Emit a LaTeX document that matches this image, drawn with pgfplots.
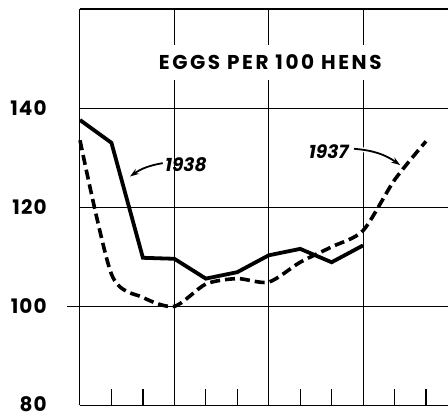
\documentclass[border=0pt]{standalone}
\usepackage{pgfplots}
\pgfplotsset{compat=1.18}
\usepackage{fontspec}
\usetikzlibrary{arrows.meta}
\newfontfamily\tickfont[LetterSpace=6]{Poppins}
\newfontfamily\titlefont[LetterSpace=13]{Poppins}
\newfontfamily\labfont{Poppins}
\begin{document}
\begin{tikzpicture}
\begin{axis}[name=ax, scale only axis, width=368pt, height=396.5pt,
  xmin=0, xmax=11.7, ymin=80, ymax=160, clip=false,
  axis line style={draw=none},
  ytick={80,100,120,140}, yticklabels={\raisebox{2.5pt}{80},100,120,140},
  yticklabel style={font=\tickfont\bfseries\fontsize{20}{20}\selectfont, anchor=east, inner sep=0pt, xshift=-33pt},
  major tick length=0pt,
  xtick={3,6,9}, xticklabels={},
  xmajorgrids, ymajorgrids, ytick pos=left, xtick pos=left,
  grid style={black, line width=0.9pt},
  extra x ticks={1,2,4,5,7,8,10,11}, extra x tick labels={},
  extra x tick style={xmajorgrids=false, major tick length=16pt, tick align=inside, tick style={line width=1.2pt, black}},
]
\draw[line width=1.2pt] (axis cs:0,160) -- (axis cs:11.7,160);
\draw[line width=1pt] (axis cs:0,80) -- (axis cs:0,160);
\draw[line width=1.3pt] (axis cs:0,80) -- (axis cs:11.7,80);
\draw[line width=1.6pt] (axis cs:-0.42,100) -- (axis cs:11.7,100);
% 1938
\addplot[black, line width=3.8pt, line join=miter] coordinates {
(0,137.6) (1,133) (2,109.8) (3,109.6) (4,105.6) (5,106.9) (6,110.3) (7,111.6) (8,108.9) (9,112.3)};
% 1937
\addplot[black, line width=3.6pt, dash pattern=on 10pt off 5pt, smooth, tension=0.45] coordinates {
(0,133.5) (1,106.5) (2,101.8) (3,100) (4,104.5) (5,105.6) (6,104.9) (7,108.9) (8,112) (9,115.3) (10,125.5) (11,133.3)};
\node[fill=white, inner xsep=4pt, inner ysep=10pt, font=\titlefont\bfseries\fontsize{20}{20}\selectfont] at (axis cs:6.05,149.3) {EGGS PER 100 HENS};
\node[anchor=west, inner sep=0pt, font=\labfont\bfseries\itshape\fontsize{18.5}{18}\selectfont] at (axis cs:2.70,128.5) {1938};
\node[anchor=east, inner sep=0pt, font=\labfont\bfseries\itshape\fontsize{18.5}{18}\selectfont] at (axis cs:8.54,131.3) {1937};
\draw[line width=1.8pt, -{Stealth[length=9pt,width=6pt]}] (axis cs:2.63,128.9) to[out=190,in=35] (axis cs:1.59,126.2);
\draw[line width=1.8pt, -{Stealth[length=9pt,width=6pt]}, preaction={draw=white, line width=5pt}] (axis cs:8.71,131.8) to[out=-5,in=145] (axis cs:10.18,128.5);
\end{axis}
\pgfresetboundingbox
\path[use as bounding box] ([xshift=-80pt,yshift=-10.7pt]ax.south west) rectangle ([yshift=9pt]ax.north east);
\end{tikzpicture}
\end{document}
